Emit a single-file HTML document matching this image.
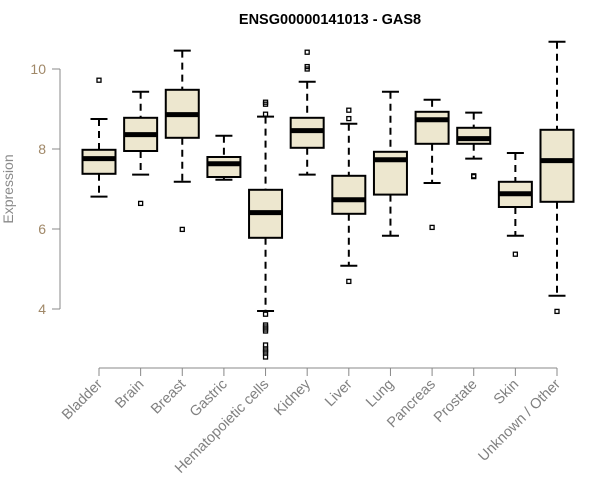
<!DOCTYPE html>
<html><head><meta charset="utf-8"><style>body{margin:0;background:#fff}svg{display:block;font-family:"Liberation Sans",Arial,sans-serif}</style></head>
<body>
<svg id="chart" width="600" height="500">
<text x="330" y="24" text-anchor="middle" font-weight="bold" font-size="14.5">ENSG00000141013 - GAS8</text>
<text transform="translate(13,189) rotate(-90)" text-anchor="middle" font-size="14" fill="#8a8a8a">Expression</text>
<g id="g"></g>
</svg>
<script>
const categories=["Bladder","Brain","Breast","Gastric","Hematopoietic cells","Kidney","Liver","Lung","Pancreas","Prostate","Skin","Unknown / Other"];
const lowWhisker=[6.81,7.36,7.18,7.23,3.95,7.36,5.08,5.83,7.15,7.76,5.83,4.33];
const q1=[7.38,7.95,8.28,7.30,5.78,8.03,6.38,6.86,8.13,8.13,6.55,6.68];
const median=[7.76,8.36,8.86,7.63,6.41,8.46,6.73,7.73,8.73,8.26,6.88,7.71];
const q3=[7.98,8.78,9.48,7.80,6.98,8.78,7.33,7.93,8.93,8.53,7.18,8.48];
const highWhisker=[8.75,9.43,10.46,8.33,8.81,9.68,8.63,9.43,9.23,8.91,7.90,10.68];
const outliers=[[9.72],[6.64],[5.99],[],[9.17,9.12,8.87,3.87,3.6,3.55,3.5,3.45,3.1,3.0,2.95,2.9,2.8],[10.42,10.06,10.0],[8.97,8.76,4.69],[],[6.04],[7.33,7.31],[5.37],[3.94]];
const yTicks=[4,6,8,10];
const NS="http://www.w3.org/2000/svg";
const g=document.getElementById('g');
const X=i=>99+i*(458/11);
const Y=v=>309-(v-4)*40;
function mk(t,a,p){const e=document.createElementNS(NS,t);for(const k in a)e.setAttribute(k,a[k]);(p||g).appendChild(e);return e;}
let ax=mk('line',{x1:60,x2:60,y1:Y(4),y2:Y(10),stroke:'#888'});


yTicks.forEach(t=>{
 mk('line',{x1:52,x2:60,y1:Y(t),y2:Y(t),stroke:'#888'});
 const tx=mk('text',{x:46,y:Y(t)+5,'text-anchor':'end','font-size':14,fill:'#a08868'});
 tx.textContent=t;
 
 
});
let xa=mk('line',{x1:X(0),x2:X(11),y1:368,y2:368,stroke:'#888'});


categories.forEach((c,i)=>{
 const x=X(i),w=16.5;
 mk('line',{x1:x,x2:x,y1:368,y2:376,stroke:'#888'});
 const lb=mk('text',{transform:`translate(${x+4},${385}) rotate(-45)`,'text-anchor':'end','font-size':14.5,fill:'#808080'});
 lb.textContent=c;
 
 
 const bg=mk('g',{});
 
 
 mk('line',{x1:x,x2:x,y1:Y(highWhisker[i]),y2:Y(q3[i]),stroke:'#000','stroke-width':2,'stroke-dasharray':'7,5'},bg);
 mk('line',{x1:x,x2:x,y1:Y(q1[i]),y2:Y(lowWhisker[i]),stroke:'#000','stroke-width':2,'stroke-dasharray':'7,5'},bg);
 mk('line',{x1:x-8.5,x2:x+8.5,y1:Y(highWhisker[i]),y2:Y(highWhisker[i]),stroke:'#000','stroke-width':2},bg);
 mk('line',{x1:x-8.5,x2:x+8.5,y1:Y(lowWhisker[i]),y2:Y(lowWhisker[i]),stroke:'#000','stroke-width':2},bg);
 mk('rect',{x:x-w,y:Y(q3[i]),width:2*w,height:Y(q1[i])-Y(q3[i]),fill:'#ede7cf',stroke:'#000','stroke-width':2},bg);
 mk('line',{x1:x-w,x2:x+w,y1:Y(median[i]),y2:Y(median[i]),stroke:'#000','stroke-width':5},bg);
 outliers[i].forEach(o=>{
  const p=mk('rect',{x:x-2,y:Y(o)-2,width:4,height:4,fill:'none',stroke:'#000','stroke-width':1.3},bg);
  
  
 });
});
</script>
</body></html>
